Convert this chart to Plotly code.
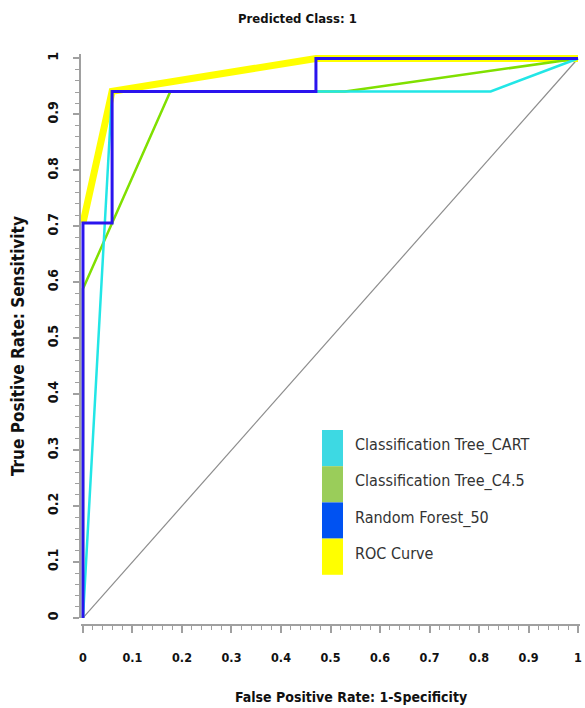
import plotly.graph_objects as go

# ---- data (fractions; steps are in units of 1/17) ----
series_names = ["Classification Tree_CART", "Classification Tree_C4.5", "Random Forest_50", "ROC Curve"]

cart_fpr = [0, 1/17, 14/17, 1]
cart_tpr = [0, 16/17, 16/17, 1]

c45_fpr = [0, 0, 3/17, 9/17, 1]
c45_tpr = [0, 10/17, 16/17, 16/17, 1]

rf_fpr = [0, 0, 1/17, 1/17, 8/17, 8/17, 1]
rf_tpr = [0, 12/17, 12/17, 16/17, 16/17, 1, 1]

roc_fpr = [0, 1/17, 8/17, 1]
roc_tpr = [12/17, 16/17, 1, 1]

diag_x = [0, 1]
diag_y = [0, 1]

tick_vals = [0, 0.1, 0.2, 0.3, 0.4, 0.5, 0.6, 0.7, 0.8, 0.9, 1]
tick_text = ["0", "0.1", "0.2", "0.3", "0.4", "0.5", "0.6", "0.7", "0.8", "0.9", "1"]

line_colors = {"cart": "#22E6E6", "c45": "#80E000", "rf": "#2A14EE", "roc": "#FFFF00"}
legend_colors = ["#3DD9E3", "#9ACD5A", "#0052F2", "#FFFF00"]

FONT = "Liberation Sans Narrow, DejaVu Sans Condensed, Arial Narrow, sans-serif"
W, H = 585, 708
L, R, T, B = 81, 5, 54, 83

fig = go.Figure()
fig.add_trace(go.Scatter(x=diag_x, y=diag_y, mode="lines",
                         line=dict(color="#8C8C8C", width=1.2), showlegend=False))
fig.add_trace(go.Scatter(x=roc_fpr, y=roc_tpr, mode="lines",
                         line=dict(color=line_colors["roc"], width=7), name=series_names[3], showlegend=False))
fig.add_trace(go.Scatter(x=c45_fpr, y=c45_tpr, mode="lines",
                         line=dict(color=line_colors["c45"], width=2.5), name=series_names[1], showlegend=False))
fig.add_trace(go.Scatter(x=cart_fpr, y=cart_tpr, mode="lines",
                         line=dict(color=line_colors["cart"], width=2.5), name=series_names[0], showlegend=False))
fig.add_trace(go.Scatter(x=rf_fpr, y=rf_tpr, mode="lines",
                         line=dict(color=line_colors["rf"], width=3), name=series_names[2], showlegend=False))

# pixel -> paper helpers (paper = plot area)
pw = W - L - R
ph = H - T - B
def px(xp):
    return (xp - L) / pw
def py(yp):
    return 1 - (yp - T) / ph

# custom block legend
box_top = 430
box_h = 36.2
for i, (name, col) in enumerate(zip(series_names, legend_colors)):
    y0 = box_top + i * box_h
    fig.add_shape(type="rect", xref="paper", yref="paper",
                  x0=px(322), x1=px(343), y0=py(y0 + box_h), y1=py(y0),
                  fillcolor=col, line=dict(width=0), layer="above")
    fig.add_annotation(xref="paper", yref="paper", x=px(353), y=py(y0 + box_h / 2 - 3),
                       text=name, showarrow=False, xanchor="left", yanchor="middle",
                       font=dict(family=FONT, size=16, color="#333333"))

# titles
fig.add_annotation(xref="paper", yref="paper", x=px(297), y=py(18), text="<b>Predicted Class: 1</b>",
                   showarrow=False, xanchor="center", yanchor="middle",
                   font=dict(family=FONT, size=13, color="#111111"))
fig.add_annotation(xref="paper", yref="paper", x=px(351), y=py(697), text="<b>False Positive Rate: 1-Specificity</b>",
                   showarrow=False, xanchor="center", yanchor="middle",
                   font=dict(family=FONT, size=14, color="#111111"))
fig.add_annotation(xref="paper", yref="paper", x=px(18), y=py(346), text="<b>True Positive Rate: Sensitivity</b>",
                   showarrow=False, xanchor="center", yanchor="middle", textangle=-90,
                   font=dict(family=FONT, size=17, color="#111111"))

axis_col = "#A0A0A0"
fig.update_layout(
    width=W, height=H,
    margin=dict(l=L, r=R, t=T, b=B, autoexpand=False),
    paper_bgcolor="white", plot_bgcolor="white",
    showlegend=False,
    xaxis=dict(range=[-0.004, 1.004], anchor="free", position=0,
               showgrid=False, zeroline=False, showline=True, linecolor=axis_col, linewidth=1.5,
               ticks="outside", ticklen=7, tickcolor=axis_col, tickwidth=1.5,
               tickvals=tick_vals, ticktext=tick_text, ticklabelstandoff=14,
               tickfont=dict(family=FONT, size=12.5, color="#111111", weight="bold"),
               minor=dict(dtick=0.02, tick0=0, ticks="outside", ticklen=4, tickcolor=axis_col, tickwidth=1.2,
                          showgrid=False)),
    yaxis=dict(range=[-0.001, 1.008], domain=[0.0114, 1],
               showgrid=False, zeroline=False, showline=True, linecolor=axis_col, linewidth=1.5,
               ticks="outside", ticklen=6, tickcolor=axis_col, tickwidth=1.5,
               tickvals=tick_vals, ticktext=tick_text, tickangle=-90, ticklabelstandoff=10,
               tickfont=dict(family=FONT, size=14, color="#111111", weight="bold"),
               minor=dict(dtick=0.02, tick0=0, ticks="outside", ticklen=4, tickcolor=axis_col, tickwidth=1.2,
                          showgrid=False)),
)

fig.write_html("out.html", config={"displayModeBar": False},
               post_script="document.body.style.margin='0';document.body.style.overflow='hidden';")
